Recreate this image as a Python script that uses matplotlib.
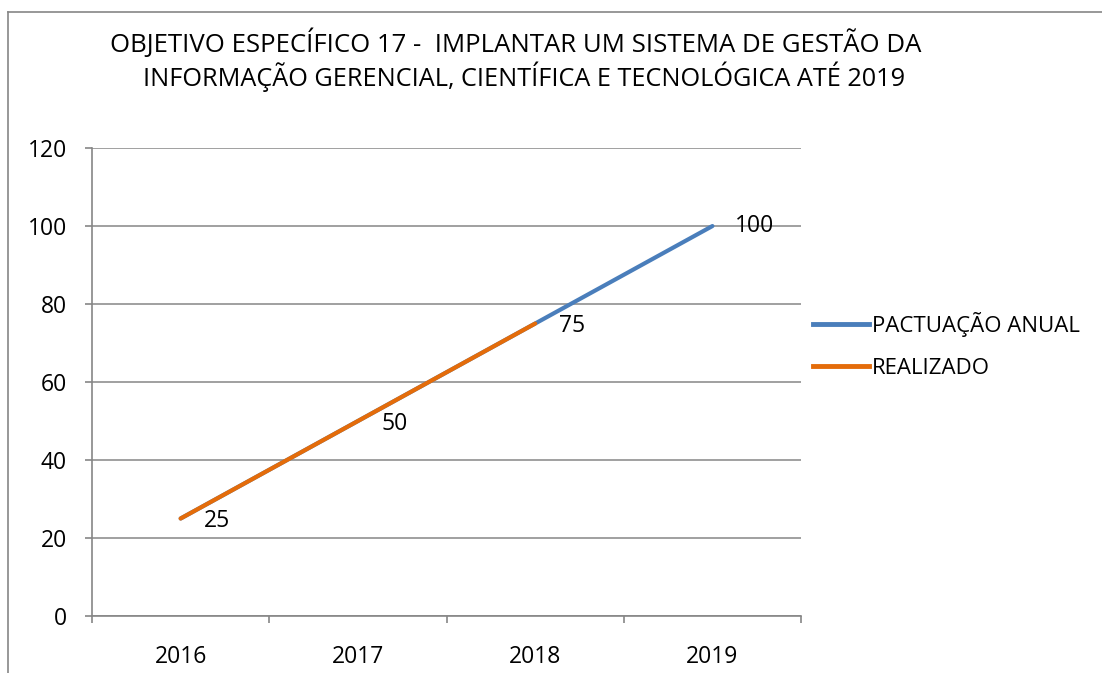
import matplotlib.pyplot as plt
from matplotlib.lines import Line2D

plt.rcParams['font.family'] = ['Open Sans', 'DejaVu Sans']

anos = ['2016', '2017', '2018', '2019']
pactuacao = [25, 50, 75, 100]
realizado = [25, 50, 75]

azul = '#4A7EBB'
laranja = '#E46C0A'
cinza = '#868686'

fig = plt.figure(figsize=(11.02, 6.73), dpi=100)
ax = fig.add_axes([0.0835, 0.0847, 0.6434, 0.6953])

x_p = list(range(len(pactuacao)))
x_r = list(range(len(realizado)))
ax.plot(x_p, pactuacao, color=azul, linewidth=3, solid_capstyle='round',
        label='PACTUAÇÃO ANUAL', zorder=3)
ax.plot(x_r, realizado, color=laranja, linewidth=3, solid_capstyle='round',
        label='REALIZADO', zorder=4)

# rotulos de dados
for xi, v in zip(x_r, realizado):
    ax.annotate(str(v), (xi, v), xytext=(17, -2), textcoords='offset points',
                ha='left', va='center', fontsize=16.5, zorder=5)
ax.annotate(str(pactuacao[-1]), (x_p[-1], pactuacao[-1]), xytext=(16, 0),
            textcoords='offset points', ha='left', va='center', fontsize=16.5, zorder=5)

ax.set_xlim(-0.5, 3.5)
ax.set_ylim(0, 120)
ax.set_yticks(range(0, 121, 20))
ax.set_xticks([i - 0.5 for i in range(5)], minor=False)
ax.set_xticklabels([])
ax.set_xticks(x_p, minor=True)
ax.set_xticklabels(anos, minor=True)
ax.tick_params(axis='x', which='minor', length=0, pad=21, labelsize=16.5)
ax.tick_params(axis='x', which='major', length=5, color=cinza, width=1.2)
ax.tick_params(axis='y', length=5, color=cinza, width=1.2, pad=13, labelsize=16.5)

ax.grid(axis='y', color=cinza, linewidth=1.1)
ax.set_axisbelow(True)
for s in ['top', 'right']:
    ax.spines[s].set_visible(False)
for s in ['left', 'bottom']:
    ax.spines[s].set_color(cinza)
    ax.spines[s].set_linewidth(1.2)

fig.text(0.468, 0.935, 'OBJETIVO ESPECÍFICO 17 -  IMPLANTAR UM SISTEMA DE GESTÃO DA',
         ha='center', va='center', fontsize=18.5)
fig.text(0.4755, 0.886, 'INFORMAÇÃO GERENCIAL, CIENTÍFICA E TECNOLÓGICA ATÉ 2019',
         ha='center', va='center', fontsize=18.2)

fig.legend(handles=[Line2D([], [], color=azul, linewidth=3.5),
                    Line2D([], [], color=laranja, linewidth=3.5)],
           labels=['PACTUAÇÃO ANUAL', 'REALIZADO'],
           loc='center left', bbox_to_anchor=(0.72, 0.4866), frameon=False,
           fontsize=16, handlelength=2.5, handletextpad=0.15, labelspacing=0.95)

# borda do grafico
fig.add_artist(Line2D([0.0073, 0.0073], [0, 0.982], color=cinza, linewidth=1.2))
fig.add_artist(Line2D([0.0073, 1.0], [0.982, 0.982], color=cinza, linewidth=1.2))

fig.savefig('out.png', dpi=100)
